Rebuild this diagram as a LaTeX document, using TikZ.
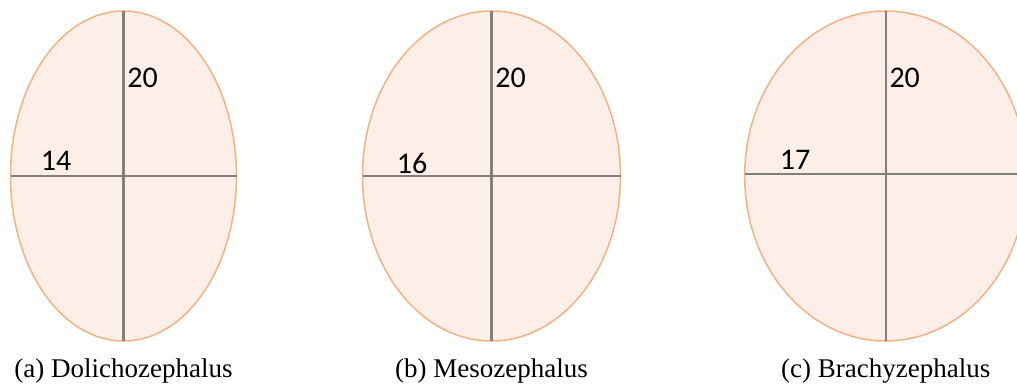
\documentclass[tikz,border=0pt]{standalone}
\usepackage{fontspec}
\setmainfont{Liberation Serif}
\newfontfamily\numfont{Carlito}
\usetikzlibrary{positioning}
\definecolor{skullc}{HTML}{F4B183}
\definecolor{skullf}{HTML}{FDEFE7}
\definecolor{axisc}{HTML}{7F7F7F}

\begin{document}
\begin{tikzpicture}[x=0.5pt, y=-0.5pt,
  skull/.style={fill=skullf, draw=skullc, line width=0.75pt},
  axis/.style={draw=axisc, line width=1.1pt},
  lbl/.style={font=\numfont\fontsize{15}{17}\selectfont, inner sep=0pt},
  capt/.style={anchor=base, font=\fontsize{13.5}{16}\selectfont, inner sep=0pt}]
 \useasboundingbox (0,0) rectangle (1017,385);
 \clip (0,0) rectangle (1017,385);
 \foreach \cx/\rx/\hy/\w/\wx/\wy/\name [count=\i] in {123.5/113/176/14/56/161/{(a) Dolichozephalus},
   491.5/129/176/16/412/163/{(b) Mesozephalus}, 885.7/141/174/17/795/160/{(c) Brachyzephalus}}{
   \path[skull] (\cx,176) ellipse [x radius=\rx, y radius=165];
   \coordinate (top\i) at (\cx,11);
   \coordinate (bot\i) at (\cx,341);
   \coordinate (lft\i) at (\cx-\rx,\hy);
   \coordinate (rgt\i) at (\cx+\rx,\hy);
   \draw[axis] (top\i) -- (bot\i);
   \draw[axis] (lft\i) -- (rgt\i);
   \node[lbl] (len\i) at (\cx+19,78) {20};
   \node[lbl] (wid\i) at (\wx,\wy) {\w};
   \node[capt] (cap\i) at (\cx,377) {\name};}
\end{tikzpicture}
\end{document}
